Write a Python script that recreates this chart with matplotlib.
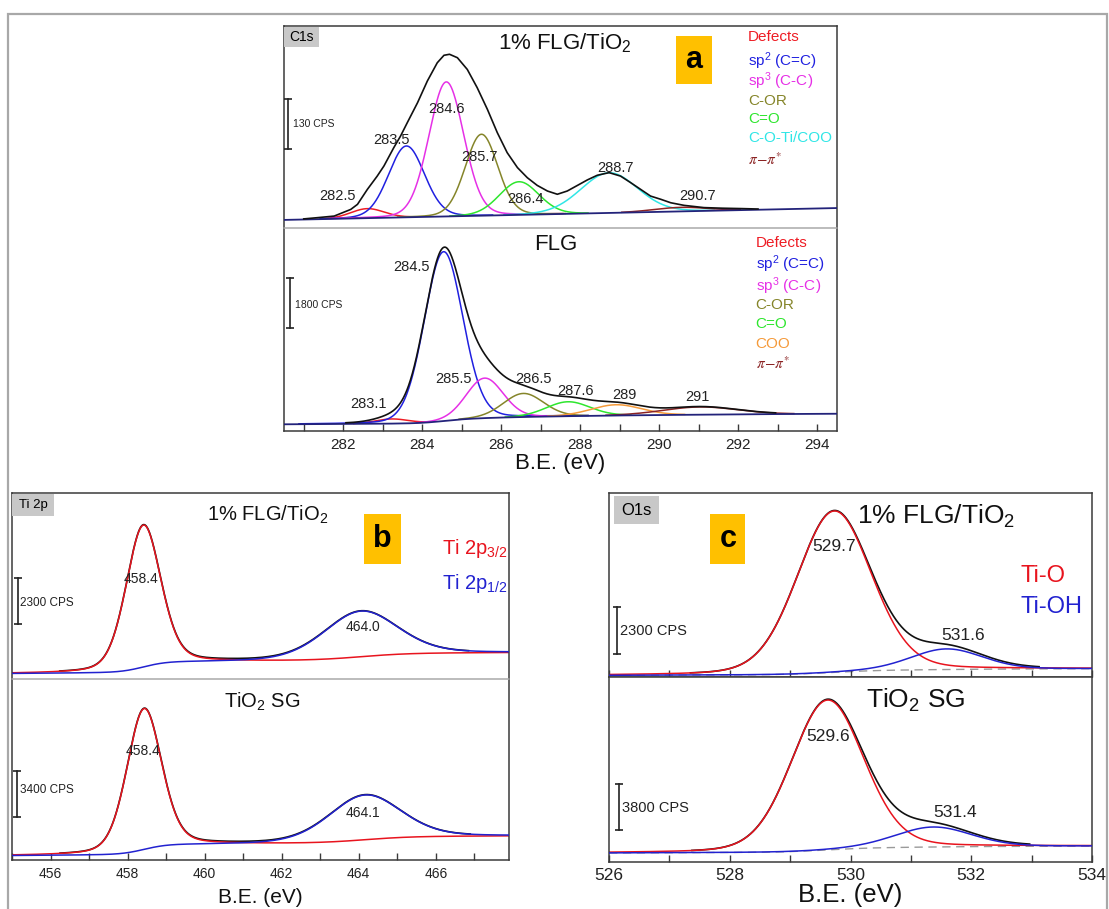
import numpy as np
import matplotlib
matplotlib.use("Agg")
import matplotlib.pyplot as plt
from matplotlib.patches import Rectangle

plt.rcParams['font.family'] = ['Liberation Sans', 'DejaVu Sans']
plt.rcParams['mathtext.fontset'] = 'custom'
plt.rcParams['mathtext.rm'] = 'Liberation Sans'
plt.rcParams['mathtext.it'] = 'Liberation Sans:italic'
plt.rcParams['mathtext.bf'] = 'Liberation Sans:bold'
plt.rcParams['mathtext.sf'] = 'Liberation Sans'

W, H = 1109, 909

# ====================== DATA ======================
# Intensities are given as a fraction of the sub-panel height (no y axis in the figure)
# ---- (a) C1s, 1% FLG/TiO2 ----
a1_names = ['Defects', 'sp$^2$ (C=C)', 'sp$^3$ (C-C)', 'C-OR', 'C=O', 'C-O-Ti/COO', 'pi']
a1_center = [282.61, 283.60, 284.61, 285.50, 286.45, 288.73, 290.55]
a1_height = [0.047, 0.353, 0.666, 0.403, 0.164, 0.199, 0.020]
a1_fwhm = [1.00, 1.07, 1.04, 0.97, 1.18, 1.69, 1.60]
a1_tags = ['282.5', '283.5', '284.6', '285.7', '286.4', '288.7', '290.7']
a1_bg = [0.040, 0.0042, 0.0]          # level, slope /eV, Shirley step
# measured envelope (black) of the 1% FLG/TiO2 C1s spectrum
a1_env_x = [281.00, 281.34, 281.77, 282.19, 282.36, 282.61, 282.86, 283.03, 283.28, 283.45,
            283.62, 283.88, 284.13, 284.38, 284.55, 284.69, 284.89, 285.14, 285.39, 285.65,
            285.90, 286.15, 286.41, 286.66, 286.91, 287.17, 287.42, 287.67, 287.93, 288.18,
            288.43, 288.73, 289.02, 289.28, 289.53, 289.78, 290.04, 290.29, 290.63, 291.13,
            291.60, 292.10, 292.50]
a1_env_y = [0.045, 0.051, 0.059, 0.092, 0.117, 0.191, 0.257, 0.307, 0.398, 0.455,
            0.521, 0.620, 0.728, 0.818, 0.855, 0.860, 0.843, 0.785, 0.695, 0.587,
            0.472, 0.373, 0.299, 0.249, 0.211, 0.183, 0.167, 0.183, 0.211, 0.238,
            0.261, 0.274, 0.257, 0.224, 0.191, 0.158, 0.142, 0.125, 0.112, 0.101,
            0.098, 0.096, 0.094]
# ---- (a) C1s, FLG ----
a2_names = ['Defects', 'sp$^2$ (C=C)', 'sp$^3$ (C-C)', 'C-OR', 'C=O', 'COO', 'pi']
a2_center = [283.23, 284.54, 285.58, 286.56, 287.69, 288.91, 291.03]
a2_height = [0.023, 0.834, 0.197, 0.116, 0.071, 0.053, 0.038]
a2_fwhm = [1.00, 1.15, 1.10, 1.20, 1.30, 1.50, 2.20]
a2_tags = ['283.1', '284.5', '285.5', '286.5', '287.6', '289', '291']
a2_bg = [0.033, 0.001, 0.038]
# ---- (b) Ti 2p ----
b_names = ['Ti 2p$_{\\mathrm{3/2}}$', 'Ti 2p$_{\\mathrm{1/2}}$']
b1_center = [458.41, 464.05]
b1_height = [0.765, 0.247]
b1_fwhm = [1.06, 2.26]
b1_tags = ['458.4', '464.0']
b1_bg = [0.029, 0.001, 0.100]
b2_center = [458.43, 464.16]
b2_height = [0.780, 0.249]
b2_fwhm = [1.06, 2.20]
b2_tags = ['458.4', '464.1']
b2_bg = [0.024, 0.001, 0.096]
# ---- (c) O1s ----
c_names = ['Ti-O', 'Ti-OH']
c1_center = [529.73, 531.59]
c1_height = [0.877, 0.112]
c1_fwhm = [1.45, 1.40]
c1_tags = ['529.7', '531.6']
c1_bg = [0.009, 0.001, 0.028]
c2_center = [529.62, 531.37]
c2_height = [0.810, 0.108]
c2_fwhm = [1.41, 1.50]
c2_tags = ['529.6', '531.4']
c2_bg = [0.049, 0.001, 0.029]
# scale bars (CPS)
scale_a = ['130 CPS', '1800 CPS']
scale_b = ['2300 CPS', '3400 CPS']
scale_c = ['2300 CPS', '3800 CPS']
samples_top = '1% FLG/TiO$_{\\mathrm{2}}$'
# x ranges / ticks
a_xlim, b_xlim, c_xlim = (280.5, 294.5), (455.0, 467.9), (526.0, 534.0)
a_ticks = [282, 284, 286, 288, 290, 292, 294]
b_ticks = [456, 458, 460, 462, 464, 466]
c_ticks = [526, 528, 530, 532, 534]

# ====================== STYLE / LAYOUT ======================
a1_colors = ['#ee1c24', '#2020e0', '#e630e6', '#85852a', '#2ee62e', '#30e6e6', '#8b2323']
a2_colors = ['#ee1c24', '#2020e0', '#e630e6', '#85852a', '#2ee62e', '#f59a3a', '#8b2323']
RED, BLUE = '#e8141e', '#2222d0'
NAVY = '#23237a'
ORANGE = '#ffc000'
GRAYBOX = '#c8c8c8'


def gl(x, c, h, w, m):
    d = (x - c) / w
    return h * ((1 - m) * np.exp(-4 * np.log(2) * d ** 2) + m / (1 + 4 * d ** 2))


def spectrum(x, centers, heights, fwhms, m, bgp):
    comps = [gl(x, c, h, w, m) for c, h, w in zip(centers, heights, fwhms)]
    total = np.sum(comps, axis=0)
    cum = np.cumsum(total)
    cum = cum / cum[-1]
    bg = bgp[0] + bgp[1] * (x - x[0]) + bgp[2] * cum
    return comps, total, bg


def rect(x0, y0, x1, y1):
    return [x0 / W, 1 - y1 / H, (x1 - x0) / W, (y1 - y0) / H]


fig = plt.figure(figsize=(W / 100, H / 100), dpi=100)
fig.patch.set_facecolor('white')
fig.add_artist(Rectangle((8 / W, -0.1), (1107 - 8) / W, 1.1 - 14 / H, transform=fig.transFigure,
                         fill=False, edgecolor='#a8a8a8', lw=1.6))

SPINE = '#3a3a3a'


def setup(ax, xlim, top, divider_dark=False):
    for s in ax.spines.values():
        s.set_color(SPINE)
        s.set_linewidth(1.1)
    if top:
        if divider_dark:
            ax.spines['bottom'].set_color('#555555')
        else:
            ax.spines['bottom'].set_visible(False)
    else:
        if not divider_dark:
            ax.spines['top'].set_color('#aaaaaa')


def ticks(ax, major, size, xlim, labels=True, pad=5):
    ax.set_xticks(major)
    ax.set_xticks(np.arange(major[0] - 1, major[-1] + 2, 1), minor=True)
    ax.tick_params(axis='x', which='both', direction='in', length=5, width=1.0,
                   colors=SPINE, labelsize=size, labelcolor='#222222', pad=pad,
                   labelbottom=labels)
    ax.set_xlim(*xlim)
    ax.set_ylim(0, 1)
    ax.set_yticks([])


def scalebar(ax, x, y0, y1, label, lx, ly, fs):
    ax.plot([x, x], [y0, y1], color='#222222', lw=1.2, zorder=6)
    ax.plot([x, x], [y0, y1], color='#222222', ls='none', marker='_', ms=6, mew=1.2, zorder=6)
    ax.text(lx, ly, label, fontsize=fs, color='#222222', ha='left', va='center', zorder=6)


def box(ax, x0, x1, y0, y1, color, text, fs, bold=False):
    ax.add_patch(Rectangle((x0, y0), x1 - x0, y1 - y0, facecolor=color, edgecolor='none', zorder=5))
    ax.text((x0 + x1) / 2, (y0 + y1) / 2, text, fontsize=fs, ha='center', va='center',
            fontweight='bold' if bold else 'normal', color='black', zorder=6)


THR = 0.006

# ---------------- panel a ----------------
axa1 = fig.add_axes(rect(284, 26, 837, 228))
axa2 = fig.add_axes(rect(284, 228, 837, 431))
xa = np.linspace(a_xlim[0], a_xlim[1], 2000)
for ax, cen, hei, fw, bgp, cols, names, tags, tagpos, legx, legy, title, tpos, env in [
    (axa1, a1_center, a1_height, a1_fwhm, a1_bg, a1_colors, a1_names, a1_tags,
     [(281.86, 0.158), (283.23, 0.438), (284.62, 0.588), (285.46, 0.35), (286.61, 0.142),
      (288.88, 0.297), (290.98, 0.158)],
     292.25, [0.945, 0.828, 0.725, 0.628, 0.538, 0.445, 0.338], samples_top, (287.6, 0.917),
     (a1_env_x, a1_env_y)),
    (axa2, a2_center, a2_height, a2_fwhm, a2_bg, a2_colors, a2_names, a2_tags,
     [(282.64, 0.133), (283.74, 0.808), (284.8, 0.254), (286.82, 0.254), (287.88, 0.196),
      (289.13, 0.177), (290.96, 0.166)],
     292.44, [0.925, 0.821, 0.713, 0.619, 0.527, 0.431, 0.332], 'FLG', (287.38, 0.917), None),
]:
    comps, total, bg = spectrum(xa, cen, hei, fw, 0.1, bgp)
    for comp, col in zip(comps, cols):
        ax.plot(xa, np.where(comp > 0.002, comp + bg, np.nan), color=col, lw=1.1, zorder=2)
    ax.plot(xa, bg, color=NAVY, lw=1.3, zorder=3)
    if env is None:
        ax.plot(xa, np.where(total > THR, total + bg, np.nan), color='#111111', lw=1.2, zorder=4)
    else:
        ax.plot(env[0], env[1], color='#111111', lw=1.2, zorder=4)
    for t, (tx, ty) in zip(tags, tagpos):
        ax.text(tx, ty, t, fontsize=10.5, ha='center', va='center', color='#222222', zorder=6)
    for n, col, ly in zip(names, cols, legy):
        if n == 'pi':
            ax.text(legx, ly, r'$\pi\!-\!\pi^{*}$', fontsize=11, color=col, ha='left', va='center',
                    math_fontfamily='stix')
        else:
            ax.text(legx, ly, n, fontsize=11, color=col, ha='left', va='center')
    ax.text(tpos[0], tpos[1], title, fontsize=16, ha='center', va='center', color='#111111')

setup(axa1, a_xlim, True)
setup(axa2, a_xlim, False)
ticks(axa1, a_ticks, 11, a_xlim, labels=False)
axa1.tick_params(axis='x', which='both', length=0)
ticks(axa2, a_ticks, 11, a_xlim)
axa2.set_xlabel('B.E. (eV)', fontsize=16, labelpad=1, color='#111111')
box(axa1, 290.42, 291.33, 0.714, 0.951, ORANGE, 'a', 22, bold=True)
box(axa1, 280.5, 281.39, 0.895, 0.997, GRAYBOX, 'C1s', 10)
scalebar(axa1, 280.61, 0.392, 0.638, scale_a[0], 280.73, 0.517, 7.5)
scalebar(axa2, 280.66, 0.506, 0.755, scale_a[1], 280.78, 0.622, 7.5)

# ---------------- panel b ----------------
axb1 = fig.add_axes(rect(12, 493, 509, 679))
axb2 = fig.add_axes(rect(12, 679, 509, 860))
xb = np.linspace(b_xlim[0], b_xlim[1], 2000)
for ax, cen, hei, fw, bgp, tags, tagpos, title, tpos in [
    (axb1, b1_center, b1_height, b1_fwhm, b1_bg, b1_tags, [(458.34, 0.538), (464.12, 0.28)],
     samples_top, (461.63, 0.884)),
    (axb2, b2_center, b2_height, b2_fwhm, b2_bg, b2_tags, [(458.41, 0.60), (464.12, 0.258)],
     'TiO$_{\\mathrm{2}}$ SG', (461.49, 0.876)),
]:
    comps, total, bg = spectrum(xb, cen, hei, fw, 0.25, bgp)
    ax.plot(xb, comps[0] + bg, color=RED, lw=1.1, zorder=2)
    ax.plot(xb, comps[1] + bg, color=BLUE, lw=1.1, zorder=3)
    ax.plot(xb, np.where(total > THR * 2, total + bg, np.nan), color='#111111', lw=1.2, zorder=1.5)
    for t, (tx, ty) in zip(tags, tagpos):
        ax.text(tx, ty, t, fontsize=10, ha='center', va='center', color='#222222', zorder=6)
    ax.text(tpos[0], tpos[1], title, fontsize=14.5, ha='center', va='center', color='#111111')
axb1.text(466.15, 0.704, b_names[0], fontsize=14.5, color=RED, ha='left', va='center')
axb1.text(466.15, 0.513, b_names[1], fontsize=14.5, color=BLUE, ha='left', va='center')
setup(axb1, b_xlim, True)
setup(axb2, b_xlim, False)
ticks(axb1, b_ticks, 10, b_xlim, labels=False)
axb1.tick_params(axis='x', which='both', length=0)
ticks(axb2, b_ticks, 10, b_xlim)
fig.text(260.5 / W, 2 / H, 'B.E. (eV)', fontsize=15, ha='center', va='bottom', color='#111111')
box(axb1, 464.13, 465.1, 0.618, 0.887, ORANGE, 'b', 22, bold=True)
box(axb1, 455.0, 456.1, 0.875, 0.996, GRAYBOX, 'Ti 2p', 9.5)
scalebar(axb1, 455.16, 0.296, 0.543, scale_b[0], 455.22, 0.409, 8.5)
scalebar(axb2, 455.12, 0.240, 0.489, scale_b[1], 455.20, 0.387, 8.5)

# ---------------- panel c ----------------
axc1 = fig.add_axes(rect(609, 493, 1092, 677))
axc2 = fig.add_axes(rect(609, 677, 1092, 862))
xc = np.linspace(c_xlim[0], c_xlim[1], 2000)
for ax, cen, hei, fw, bgp, tags, tagpos, title, tpos in [
    (axc1, c1_center, c1_height, c1_fwhm, c1_bg, c1_tags, [(529.73, 0.707), (531.86, 0.223)],
     samples_top, (531.41, 0.873)),
    (axc2, c2_center, c2_height, c2_fwhm, c2_bg, c2_tags, [(529.63, 0.68), (531.73, 0.27)],
     'TiO$_{\\mathrm{2}}$ SG', (531.08, 0.874)),
]:
    comps, total, bg = spectrum(xc, cen, hei, fw, 0.15, bgp)
    ax.plot(xc, bg, color='#9a9a9a', lw=1.0, ls=(0, (6, 4)), zorder=1)
    ax.plot(xc, comps[0] + bg, color=RED, lw=1.1, zorder=2)
    ax.plot(xc, comps[1] + bg, color=BLUE, lw=1.1, zorder=3)
    ax.plot(xc, np.where(total > THR * 2, total + bg, np.nan), color='#111111', lw=1.2, zorder=1.5)
    for t, (tx, ty) in zip(tags, tagpos):
        ax.text(tx, ty, t, fontsize=12.5, ha='center', va='center', color='#222222', zorder=6)
    ax.text(tpos[0], tpos[1], title, fontsize=19, ha='center', va='center', color='#111111')
axc1.text(532.81, 0.547, c_names[0], fontsize=17, color=RED, ha='left', va='center')
axc1.text(532.81, 0.380, c_names[1], fontsize=17, color=BLUE, ha='left', va='center')
setup(axc1, c_xlim, True, divider_dark=True)
setup(axc2, c_xlim, False, divider_dark=True)
ticks(axc1, c_ticks, 12, c_xlim, labels=False)
ticks(axc2, c_ticks, 12.5, c_xlim, pad=4)
fig.text(850.5 / W, 2 / H, 'B.E. (eV)', fontsize=18.5, ha='center', va='bottom', color='#111111')
box(axc1, 527.68, 528.26, 0.612, 0.884, ORANGE, 'c', 22, bold=True)
box(axc1, 526.08, 526.83, 0.833, 0.982, GRAYBOX, 'O1s', 12)
scalebar(axc1, 526.14, 0.127, 0.380, scale_c[0], 526.19, 0.248, 10.5)
scalebar(axc2, 526.16, 0.171, 0.423, scale_c[1], 526.22, 0.294, 10.5)

fig.savefig('out.png', dpi=100, facecolor=fig.get_facecolor())
